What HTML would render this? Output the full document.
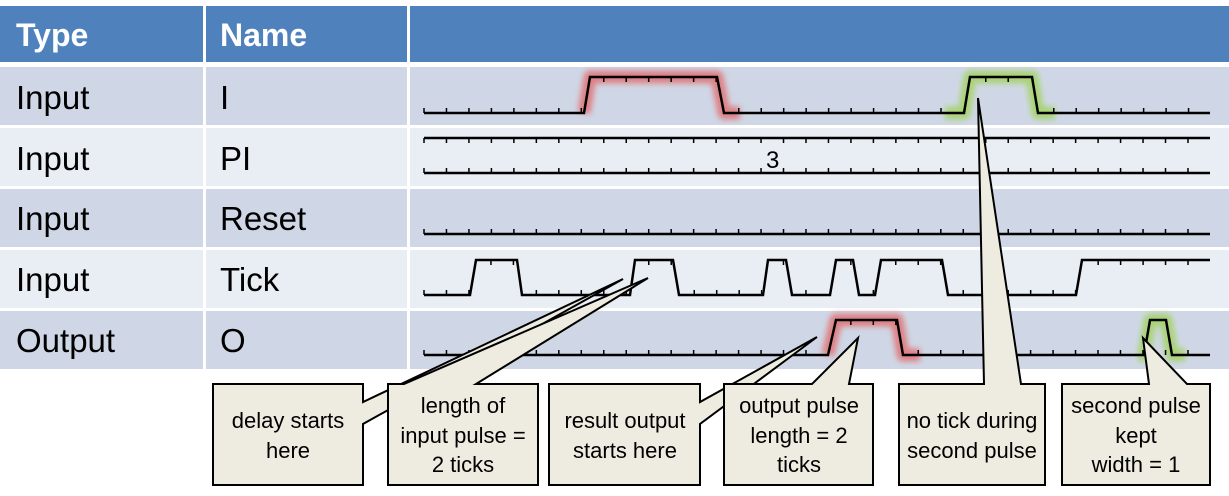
<!DOCTYPE html>
<html><head><meta charset="utf-8"><style>
html,body{margin:0;padding:0;background:#fff;}
svg{display:block;}
text{font-family:"Liberation Sans",sans-serif;}
</style></head><body>
<svg width="1229" height="496" viewBox="0 0 1229 496" xmlns="http://www.w3.org/2000/svg">
<defs>
<filter id="blur" x="-20%" y="-50%" width="140%" height="200%"><feGaussianBlur stdDeviation="3"/></filter>
</defs>
<rect x="0" y="6" width="1229" height="56" fill="#4f81bd"/>
<rect x="0" y="67" width="1229" height="58" fill="#cfd7e6"/>
<rect x="0" y="128" width="1229" height="58" fill="#e9edf4"/>
<rect x="0" y="189" width="1229" height="58" fill="#cfd7e6"/>
<rect x="0" y="250" width="1229" height="58" fill="#e9edf4"/>
<rect x="0" y="311" width="1229" height="58" fill="#cfd7e6"/>
<rect x="203" y="6" width="3" height="363" fill="#fff"/>
<rect x="407" y="6" width="3" height="363" fill="#fff"/>
<g font-size="32" font-weight="bold" fill="#fff">
<text x="16" y="46">Type</text><text x="220" y="46">Name</text>
</g>
<g font-size="33" fill="#000">
<text x="16" y="109">Input</text><text x="220" y="109">I</text>
<text x="16" y="170">Input</text><text x="220" y="170">PI</text>
<text x="16" y="230">Input</text><text x="220" y="230">Reset</text>
<text x="16" y="291">Input</text><text x="220" y="291">Tick</text>
<text x="16" y="352">Output</text><text x="220" y="352">O</text>
</g>
<g filter="url(#blur)" fill="none" stroke-width="13" stroke-linejoin="round">
<polyline points="584,113 590,77 717,77 724,113 740,113" stroke="rgba(225,100,100,0.75)"/>
<polyline points="945,113 964,113 970,77 1032,77 1038,113 1055,113" stroke="rgba(160,210,90,0.8)"/>
<polyline points="828,355 836,320 897,320 903,355 920,355" stroke="rgba(225,100,100,0.75)"/>
<polyline points="1138,355 1144,355 1150,320 1166,320 1172,355 1185,355" stroke="rgba(160,210,90,0.8)"/>
</g>
<g fill="none" stroke="#000" stroke-width="2.5" stroke-linejoin="miter">
<polyline points="424,113 584,113 590,77 717,77 724,113 964,113 970,77 1032,77 1038,113 1210,113"/>
<line x1="424" y1="138" x2="1210" y2="138"/>
<line x1="424" y1="173" x2="1210" y2="173"/>
<line x1="424" y1="234" x2="1210" y2="234"/>
<polyline points="424,295 470,295 476,260 517,260 522,295 630,295 635,260 673,260 679,295 763,295 768,260 786,260 792,295 830,295 836,260 853,260 859,295 875,295 881,260 942,260 948,295 1076,295 1082,260 1210,260"/>
<polyline points="424,355 828,355 836,320 897,320 903,355 1144,355 1150,320 1166,320 1172,355 1210,355"/>
</g>
<g stroke="#000" stroke-width="5" stroke-dasharray="1.5 20.97" fill="none">
<line x1="423.25" y1="110.5" x2="583" y2="110.5"/>
<line x1="603" y1="79.5" x2="718" y2="79.5"/>
<line x1="738" y1="110.5" x2="962" y2="110.5"/>
<line x1="985" y1="79.5" x2="1010" y2="79.5"/>
<line x1="1053" y1="110.5" x2="1190" y2="110.5"/>
<line x1="423.25" y1="140.5" x2="1190" y2="140.5"/>
<line x1="423.25" y1="170.5" x2="1190" y2="170.5"/>
<line x1="423.25" y1="231.5" x2="1190" y2="231.5"/>
<line x1="423.25" y1="292.5" x2="471" y2="292.5"/>
<line x1="490.2" y1="262.5" x2="516" y2="262.5"/>
<line x1="535.6" y1="292.5" x2="628" y2="292.5"/>
<line x1="648.0" y1="262.5" x2="673" y2="262.5"/>
<line x1="693.5" y1="292.5" x2="762" y2="292.5"/>
<line x1="782.7" y1="262.5" x2="785" y2="262.5"/>
<line x1="805.2" y1="292.5" x2="808" y2="292.5"/>
<line x1="850.1" y1="262.5" x2="852" y2="262.5"/>
<line x1="872.6" y1="292.5" x2="875" y2="292.5"/>
<line x1="895.0" y1="262.5" x2="942" y2="262.5"/>
<line x1="962.5" y1="292.5" x2="1078" y2="292.5"/>
<line x1="1097.4" y1="262.5" x2="1190" y2="262.5"/>
<line x1="423.25" y1="352.5" x2="808" y2="352.5"/>
<line x1="850.1" y1="322.5" x2="897" y2="322.5"/>
<line x1="917.5" y1="352.5" x2="1144" y2="352.5"/>
<line x1="1164.8" y1="352.5" x2="1190" y2="352.5"/>
</g>
<text x="766" y="168" font-family="Liberation Mono,monospace" font-size="24">3</text>
<g fill="#eeece1" stroke="#000" stroke-width="2" stroke-linejoin="miter">
<path d="M213,384 H363 V402 L623,279 L363,424 V485 H213 Z"/>
<path d="M388,384 H404 L648,278 L476,384 H538 V485 H388 Z"/>
<path d="M549,384 H700 V402 L817,337 L700,424 V485 H549 Z"/>
<path d="M724,384 H812 L858,338 L849,384 H873 V485 H724 Z"/>
<path d="M899,384 H984 L978,98 L1021,384 H1045 V485 H899 Z"/>
<path d="M1062,384 H1149 L1143,338 L1187,384 H1210 V485 H1062 Z"/>
</g>
<g font-size="22" fill="#000" text-anchor="middle">
<text x="288" y="428">delay starts</text><text x="288" y="458">here</text>
<text x="463" y="413">length of</text><text x="463" y="443">input pulse =</text><text x="463" y="472">2 ticks</text>
<text x="625" y="428">result output</text><text x="625" y="458">starts here</text>
<text x="799" y="413">output pulse</text><text x="799" y="443">length = 2</text><text x="799" y="472">ticks</text>
<text x="972" y="428">no tick during</text><text x="972" y="458">second pulse</text>
<text x="1136" y="413">second pulse</text><text x="1136" y="443">kept</text><text x="1136" y="472">width = 1</text>
</g>
</svg>
</body></html>
